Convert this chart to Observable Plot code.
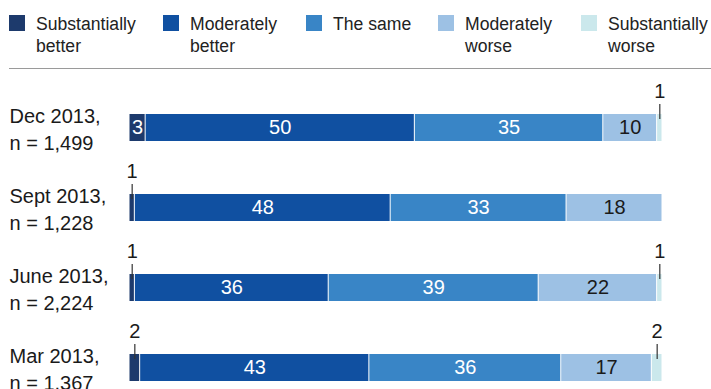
<!DOCTYPE html>
<html><head><meta charset="utf-8">
<script src="https://cdn.jsdelivr.net/npm/d3@7"></script>
<script src="https://cdn.jsdelivr.net/npm/@observablehq/plot@0.6"></script>
<style>
body{margin:0;background:#fff;font-family:"Liberation Sans",Arial,sans-serif;color:#222;overflow:hidden}
#wrap{position:relative;width:711px;height:389px;overflow:hidden}
#legend{position:relative;height:69px}
.item{position:absolute;top:15px;display:flex;align-items:flex-start}
.sw{width:16px;height:16px;flex:none}
.lab{margin-left:11px;font-size:17.6px;line-height:22px;margin-top:-2px;white-space:nowrap}
#rule{position:absolute;left:9px;top:68px;width:702px;height:1px;background:#9a9a9a}
#chart svg{display:block}
</style></head><body>
<div id="wrap"><div id="legend"><div id="rule"></div></div><div id="chart"></div></div>
<script>
const categories = ["Substantially better", "Moderately better", "The same", "Moderately worse", "Substantially worse"];
const legendLines = [["Substantially", "better"], ["Moderately", "better"], ["The same"], ["Moderately", "worse"], ["Substantially", "worse"]];
const colors = ["#1d3a6c", "#1050a1", "#3985c6", "#9dc1e4", "#cbe8ec"];
const labelColors = ["#ffffff", "#ffffff", "#ffffff", "#1a1a1a", "#1a1a1a"];
const periods = ["Dec 2013,\nn = 1,499", "Sept 2013,\nn = 1,228", "June 2013,\nn = 2,224", "Mar 2013,\nn = 1,367"];
const dec2013 = [3, 50, 35, 10, 1];
const sept2013 = [1, 48, 33, 18, 0];
const june2013 = [1, 36, 39, 22, 1];
const mar2013 = [2, 43, 36, 17, 2];
const seriesByPeriod = [dec2013, sept2013, june2013, mar2013];

// legend
const legendX = [9, 163, 306, 438, 581];
const legend = document.getElementById("legend");
categories.forEach((c, i) => {
  const item = document.createElement("div");
  item.className = "item";
  item.style.left = legendX[i] + "px";
  const sw = document.createElement("div");
  sw.className = "sw";
  sw.style.background = colors[i];
  const lab = document.createElement("div");
  lab.className = "lab";
  lab.innerHTML = legendLines[i].join("<br>");
  item.appendChild(sw); item.appendChild(lab);
  legend.appendChild(item);
});

// build stacked (normalized) records
const segs = [];
periods.forEach((p, r) => {
  const vals = seriesByPeriod[r];
  const total = d3.sum(vals);
  let cum = 0;
  vals.forEach((v, i) => {
    if (v > 0) {
      segs.push({period: p, category: categories[i], value: v, x1: cum / total, x2: (cum + v) / total, mid: (cum + v / 2) / total, labelColor: labelColors[i]});
    }
    cum += v;
  });
});
const inside = segs.filter(d => d.value >= 3);
const outside = segs.filter(d => d.value < 3);

const chart = Plot.plot({
  width: 711,
  height: 338,
  marginLeft: 129,
  marginRight: 49,
  marginTop: 18,
  marginBottom: 0,
  style: {fontFamily: "'Liberation Sans', Arial, sans-serif", background: "white"},
  x: {domain: [0, 1], axis: null},
  y: {domain: periods, axis: null, paddingInner: 0.6625, paddingOuter: 0.33125},
  color: {domain: categories, range: colors},
  marks: [
    Plot.barX(segs, {x1: "x1", x2: "x2", y: "period", fill: "category", insetLeft: 0.5, insetRight: 0.5}),
    Plot.text(inside, {x: "mid", y: "period", text: d => String(d.value), fill: "labelColor", fontSize: 20}),
    Plot.tickX(outside, {x: "mid", y: "period", stroke: "#333", strokeWidth: 1.2, insetBottom: 12, dy: -10}),
    Plot.text(outside, {x: "mid", y: "period", text: d => String(d.value), fill: "#1a1a1a", fontSize: 20, dy: -36}),
    Plot.text(periods, {y: d => d, text: d => d, frameAnchor: "left", textAnchor: "start", dx: -120, fontSize: 20, lineHeight: 1.35, fill: "#1a1a1a"})
  ]
});
document.getElementById("chart").appendChild(chart);
</script>
</body></html>
